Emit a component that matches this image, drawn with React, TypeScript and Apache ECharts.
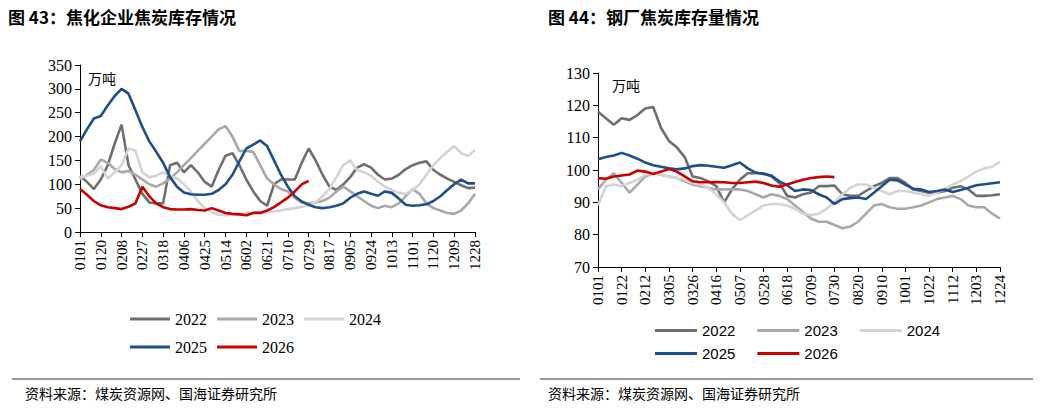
import React, { useEffect, useRef } from 'react';
import * as echarts from 'echarts';

// 图43 焦化企业焦炭库存 (万吨), one point every ~6 days, tick label every 3 points
const leftTicks = ['0101', '0120', '0208', '0227', '0318', '0406', '0425', '0514', '0602', '0621',
  '0710', '0729', '0817', '0905', '0924', '1013', '1101', '1120', '1209', '1228'];
const left2022 = [118, 105, 90, 110, 140, 185, 225, 140, 110, 80, 62, 60, 60, 140, 145, 125, 140, 125, 105, 95,
  130, 160, 165, 140, 110, 85, 65, 55, 100, 110, 110, 110, 145, 175, 150, 120, 95, 88, 100, 115,
  135, 142, 135, 120, 110, 112, 120, 132, 140, 145, 148, 130, 120, 112, 105, 98, 92, 93];
const left2023 = [110, 120, 130, 152, 145, 132, 125, 128, 120, 110, 100, 95, 102, 112, 125, 140, 155, 170, 185, 200,
  215, 222, 200, 170, 170, 168, 140, 112, 100, 90, 85, 72, 62, 60, 62, 65, 72, 85, 95, 85,
  75, 65, 55, 50, 55, 52, 60, 75, 90, 80, 60, 50, 45, 40, 38, 45, 60, 80];
const left2024 = [115, 118, 122, 138, 112, 125, 140, 175, 170, 125, 115, 118, 125, 118, 112, 100, 85, 65, 50, 42,
  36, 35, 36, 38, 40, 40, 41, 42, 43, 45, 48, 50, 53, 56, 62, 75, 90, 115, 140, 150,
  130, 125, 118, 105, 95, 88, 82, 80, 88, 100, 120, 140, 155, 168, 180, 165, 160, 172];
const left2025 = [190, 215, 238, 243, 265, 285, 300, 290, 255, 220, 190, 168, 145, 115, 95, 83, 79, 78, 78, 80,
  88, 100, 120, 148, 175, 183, 192, 180, 150, 120, 95, 75, 64, 57, 52, 50, 52, 55, 60, 72,
  80, 85, 80, 76, 85, 82, 70, 57, 55, 56, 58, 65, 75, 88, 100, 110, 102, 102];
const left2026 = [90, 78, 65, 56, 52, 50, 48, 53, 60, 95, 75, 60, 52, 48, 47, 47, 48, 46, 45, 50,
  45, 40, 38, 37, 35, 40, 40, 45, 52, 62, 72, 85, 100, 107];

// 图44 钢厂焦炭库存量 (万吨), weekly, tick label every 3 weeks
const rightTicks = ['0101', '0122', '0212', '0305', '0326', '0416', '0507', '0528', '0618', '0709',
  '0730', '0820', '0910', '1001', '1022', '1112', '1203', '1224'];
const right2022 = [118, 116, 114, 116, 115.5, 117, 119, 119.5, 113, 109, 107, 104, 98, 97.5, 96.5, 95, 90, 94, 97, 99,
  99, 99, 98, 96, 92, 91.5, 92.5, 93, 95, 95, 95.2, 92.5, 92, 92, 93.5, 95, 96, 97.5, 97.5, 96,
  94, 93.5, 93, 93, 93.5, 94.5, 95, 94, 92, 92, 92.2, 92.5];
const right2023 = [94, 97, 99, 96, 93, 95.5, 98, 99, 98.5, 98, 97.5, 96.5, 95.5, 95, 94.5, 94, 94, 94, 94, 93.5,
  92.5, 91.5, 92.5, 92, 91, 89, 87, 85, 84, 84, 83, 82, 82.5, 84, 86.5, 89, 89.5, 88.5, 88, 88,
  88.5, 89, 90, 91, 91.5, 92, 91, 89, 88.5, 88.5, 86.5, 85];
const right2024 = [89, 95, 95.5, 95, 96, 97, 98.5, 99, 98.5, 98, 97.5, 97, 96, 95.5, 94.5, 92.5, 90, 86.5, 84.5, 86,
  87.5, 89, 89.5, 89.5, 89, 88, 86.5, 86, 86.5, 88, 90, 92.5, 94.5, 95.5, 95.5, 94.5, 93.5, 92.5, 93.5, 93.5,
  93, 92.5, 92, 93, 94, 95.5, 96.5, 98, 99.5, 100.5, 101, 102.5];
const right2025 = [103.3, 104, 104.5, 105.3, 104.5, 103.5, 102.3, 101.5, 101, 100.5, 100.2, 100.5, 101.2, 101.5, 101.3, 101, 100.7, 101.5, 102.3, 100.5,
  99.2, 98.8, 98.3, 96.5, 95.3, 93.5, 94, 93.8, 92.5, 91.5, 89.5, 91, 91.3, 91.5, 91, 93, 95, 97, 96.8, 95.5,
  94.2, 94, 93.2, 93.5, 94, 93.2, 93.8, 94.5, 95.3, 95.6, 95.9, 96.2];
const right2026 = [97.5, 97.3, 98, 98.3, 98.6, 99.8, 99.5, 98.8, 99.5, 100.3, 99.5, 98, 96.5, 96.2, 96.2, 96.3, 96.2, 96, 96, 96.2,
  96.4, 96, 95.2, 94.8, 95.5, 96.3, 97, 97.5, 97.8, 98, 97.8];

const years = ['2022', '2023', '2024', '2025', '2026'];
const colors = ['#6f6f6f', '#a9a9a9', '#d4d4d4', '#1f4e8c', '#cc0000'];

const expand = (ticks: string[]) =>
  ticks.flatMap((t, i) => (i < ticks.length - 1 ? [t, t + '_a', t + '_b'] : [t]));

const serif = '"Liberation Serif", "Times New Roman", serif';
const sans = '"Liberation Sans", Arial, sans-serif';
const cjk = '"Noto Sans CJK SC", sans-serif';

export default function App() {
  const ref = useRef<HTMLDivElement>(null);

  useEffect(() => {
    if (!ref.current) return;
    const chart = echarts.init(ref.current, null, { renderer: 'svg' });

    const xAxis = (idx: number, ticks: string[]) => ({
      type: 'category' as const,
      gridIndex: idx,
      data: expand(ticks),
      boundaryGap: false,
      axisLine: { lineStyle: { color: '#000' } },
      axisTick: { interval: 2, length: 5, lineStyle: { color: '#000' } },
      axisLabel: {
        interval: 2, rotate: 90, color: '#000', fontFamily: serif, fontSize: 15,
        formatter: (v: string) => (v.includes('_') ? '' : v),
      },
    });
    const yAxis = (idx: number, min: number, max: number, interval: number) => ({
      type: 'value' as const,
      gridIndex: idx, min, max, interval,
      axisLine: { show: true, lineStyle: { color: '#000' } },
      axisTick: { show: true, length: 5, lineStyle: { color: '#000' } },
      axisLabel: { color: '#000', fontFamily: serif, fontSize: 16 },
      splitLine: { show: false },
    });

    const lines = (vals: number[][], gi: number) =>
      vals.map((d, i) => ({
        name: years[i], type: 'line' as const, xAxisIndex: gi, yAxisIndex: gi,
        data: d, symbol: 'none', lineStyle: { width: 2.6, color: colors[i] }, itemStyle: { color: colors[i] },
        z: i + 2,
      }));

    const leftLegend = {
      itemWidth: 40, itemHeight: 3, icon: 'rect', itemGap: 10,
      textStyle: { fontFamily: serif, fontSize: 16, color: '#000' },
    };
    const rightLegend = {
      itemWidth: 42, itemHeight: 3, icon: 'rect', itemGap: 22,
      textStyle: { fontFamily: sans, fontSize: 15, color: '#000' },
    };

    chart.setOption({
      animation: false,
      grid: [
        { left: 72, top: 57, width: 395, height: 167 },
        { left: 590, top: 65, width: 402, height: 194 },
      ],
      xAxis: [xAxis(0, leftTicks), xAxis(1, rightTicks)],
      yAxis: [yAxis(0, 0, 350, 50), yAxis(1, 70, 130, 10)],
      legend: [
        { ...leftLegend, left: 117, top: 298, data: ['2022', '2023', '2024'] },
        { ...leftLegend, left: 117, top: 326, data: ['2025', '2026'] },
        { ...rightLegend, left: 642, top: 310, data: ['2022', '2023', '2024'] },
        { ...rightLegend, left: 642, top: 333, data: ['2025', '2026'] },
      ],
      graphic: [
        { type: 'text', left: 0, top: 0, style: { text: '图 43：焦化企业焦炭库存情况', font: `bold 17px ${cjk}`, fill: '#000' } },
        { type: 'text', left: 540, top: 0, style: { text: '图 44：钢厂焦炭库存量情况', font: `bold 17px ${cjk}`, fill: '#000' } },
        { type: 'text', left: 80, top: 63, style: { text: '万吨', font: `14px ${cjk}`, fill: '#000' } },
        { type: 'text', left: 604, top: 70, style: { text: '万吨', font: `14px ${cjk}`, fill: '#000' } },
        { type: 'line', shape: { x1: 4, y1: 371, x2: 512, y2: 371 }, style: { stroke: '#333', lineWidth: 1 } },
        { type: 'line', shape: { x1: 532, y1: 371, x2: 1030, y2: 371 }, style: { stroke: '#333', lineWidth: 1 } },
        { type: 'text', left: 17, top: 378, style: { text: '资料来源：煤炭资源网、国海证券研究所', font: `14px ${cjk}`, fill: '#000' } },
        { type: 'text', left: 540, top: 378, style: { text: '资料来源：煤炭资源网、国海证券研究所', font: `14px ${cjk}`, fill: '#000' } },
      ],
      series: [
        ...lines([left2022, left2023, left2024, left2025, left2026], 0),
        ...lines([right2022, right2023, right2024, right2025, right2026], 1),
      ],
    });

    return () => chart.dispose();
  }, []);

  return <div ref={ref} style={{ width: 1025, height: 398 }} />;
}
